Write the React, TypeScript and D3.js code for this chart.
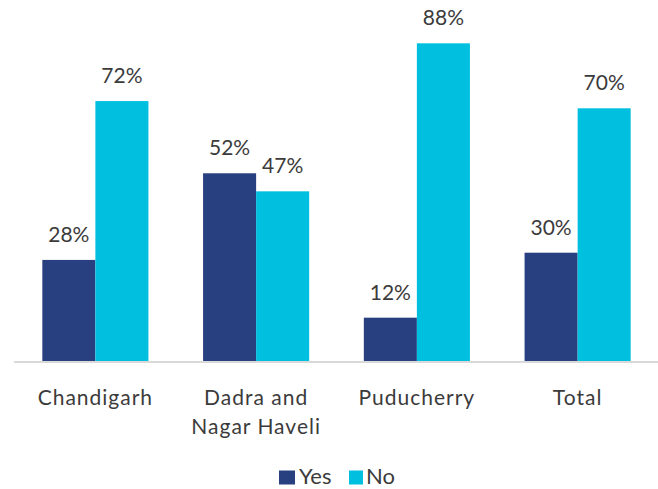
import React from "react";
import { scaleBand, scaleLinear } from "d3";

const categories = [["Chandigarh"], ["Dadra and", "Nagar Haveli"], ["Puducherry"], ["Total"]];
const seriesNames = ["Yes", "No"];
const yesValues = [28, 52, 12, 30];
const noValues = [72, 47, 88, 70];

const W = 658;
const H = 489;
const colors = { Yes: "#283f80", No: "#00bfdf" };
const textColor = "#3b3b3b";
const font = "Lato, 'Open Sans', sans-serif";

const x = scaleBand<number>()
  .domain(categories.map((_, i) => i))
  .range([15, 658])
  .paddingInner(0.34)
  .paddingOuter(0.17);
const xSub = scaleBand<string>().domain(seriesNames).range([0, x.bandwidth()]);
const y = scaleLinear().domain([0, 100]).range([361, 0]);

export default function App() {
  const rows = categories.map((c, i) => ({ i, lines: c, Yes: yesValues[i], No: noValues[i] }));
  return (
    <>
      <style>{`body{margin:0}`}</style>
      <svg width={W} height={H} style={{ display: "block", fontFamily: font }}>
        <rect width={W} height={H} fill="#fff" />
        <line x1={14} x2={658} y1={362} y2={362} stroke="#d9d9d9" strokeWidth={2} />
        {rows.map(r => (
          <g key={r.i} transform={`translate(${x(r.i)},0)`}>
            {seriesNames.map(s => {
              const v = r[s as "Yes" | "No"];
              const bx = xSub(s)!;
              return (
                <g key={s}>
                  <rect x={bx} y={y(v)} width={xSub.bandwidth()} height={y(0) - y(v)} fill={colors[s as "Yes" | "No"]} />
                  <text x={bx + xSub.bandwidth() / 2} y={y(v) - 18} textAnchor="middle" fontSize={21} fill={textColor}>
                    {v}%
                  </text>
                </g>
              );
            })}
            {r.lines.map((t, k) => (
              <text key={k} x={x.bandwidth() / 2} y={404.5 + k * 29} textAnchor="middle" fontSize={21} letterSpacing={1} fill={textColor}>
                {t}
              </text>
            ))}
          </g>
        ))}
        <g>
          <rect x={279} y={470.5} width={16} height={14} fill={colors.Yes} />
          <text x={299} y={484} fontSize={22} fill={textColor}>Yes</text>
          <rect x={349} y={470.5} width={14} height={14} fill={colors.No} />
          <text x={366} y={484} fontSize={22} fill={textColor}>No</text>
        </g>
      </svg>
    </>
  );
}
